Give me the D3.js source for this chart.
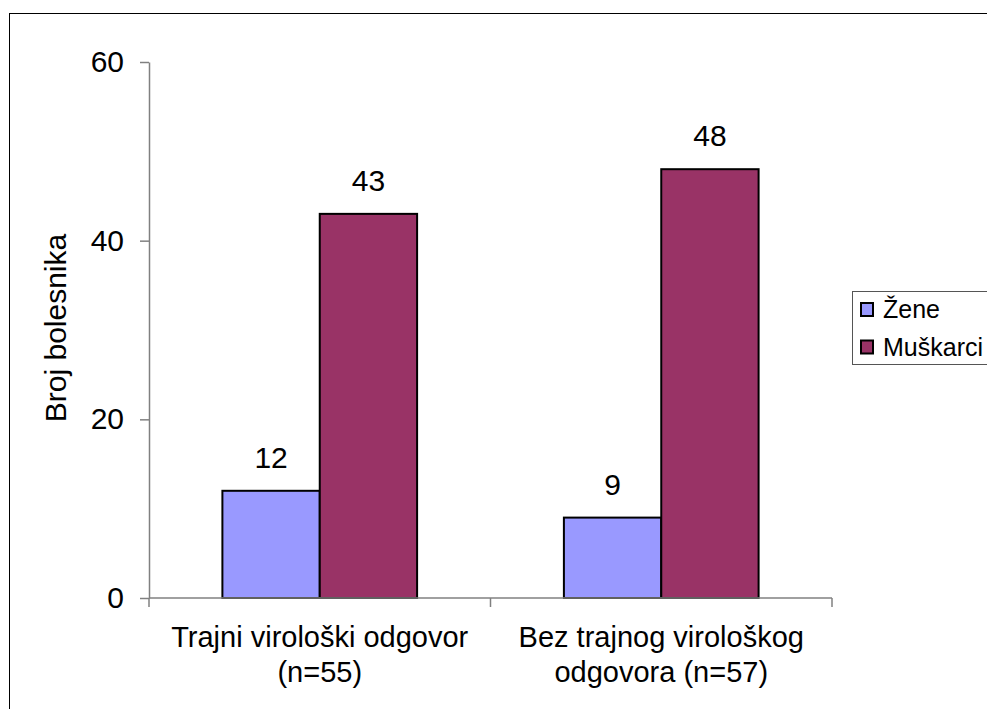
<!DOCTYPE html>
<html>
<head>
<meta charset="utf-8">
<script src="https://cdn.jsdelivr.net/npm/d3@7"></script>
<style>
  html, body { margin: 0; padding: 0; background: #fff; }
  svg { display: block; font-family: "Liberation Sans", Arial, sans-serif; }
</style>
</head>
<body>
<svg id="chart" width="987" height="709"></svg>
<script>
const categories = [["Trajni virološki odgovor", "(n=55)"], ["Bez trajnog virološkog", "odgovora (n=57)"]];
const categoryKeys = ["Trajni virološki odgovor (n=55)", "Bez trajnog virološkog odgovora (n=57)"];
const seriesNames = ["Žene", "Muškarci"];
const zeneValues = [12, 9];
const muskarciValues = [43, 48];
const yTicks = [0, 20, 40, 60];
const seriesColors = ["#9999FF", "#993366"];

const svg = d3.select("#chart");

// outer frame
svg.append("rect").attr("x", 9.5).attr("y", 13.5).attr("width", 1000).attr("height", 720)
  .attr("fill", "none").attr("stroke", "#000").attr("stroke-width", 1);

const pLeft = 149, pRight = 832, pTop = 62, pBottom = 598;
const x0 = d3.scaleBand().domain(categoryKeys).range([pLeft, pRight]).paddingInner(0).paddingOuter(0);
const x1 = d3.scaleBand().domain(seriesNames).range([0, x0.bandwidth()]).paddingInner(0).paddingOuter(0.754);
const y = d3.scaleLinear().domain([0, 60]).range([pBottom, pTop]);
const color = d3.scaleOrdinal().domain(seriesNames).range(seriesColors);

const data = categoryKeys.map((c, i) => ({ cat: c, vals: [
  { s: seriesNames[0], v: zeneValues[i] },
  { s: seriesNames[1], v: muskarciValues[i] }
]}));

// Y axis
const yAxis = svg.append("g").attr("transform", `translate(${pLeft},0)`)
  .call(d3.axisLeft(y).tickValues(yTicks).tickSize(9).tickSizeOuter(0).tickPadding(16));
yAxis.select(".domain").attr("stroke", "#808080").attr("stroke-width", 1.5);
yAxis.selectAll(".tick line").attr("stroke", "#808080").attr("stroke-width", 1.5);
yAxis.selectAll(".tick text").attr("font-size", 30).attr("fill", "#000")
  .attr("font-family", "'Liberation Sans', Arial, sans-serif");

// bars
const g = svg.append("g");
data.forEach(d => {
  const gg = g.append("g").attr("transform", `translate(${x0(d.cat)},0)`);
  gg.selectAll("rect").data(d.vals).join("rect")
    .attr("x", v => x1(v.s))
    .attr("y", v => y(v.v))
    .attr("width", x1.bandwidth())
    .attr("height", v => y(0) - y(v.v))
    .attr("fill", v => color(v.s))
    .attr("stroke", "#000").attr("stroke-width", 2);
  gg.selectAll("text.val").data(d.vals).join("text").attr("class", "val")
    .attr("x", v => x1(v.s) + x1.bandwidth() / 2)
    .attr("y", v => y(v.v) - 23)
    .attr("text-anchor", "middle").attr("font-size", 30).attr("fill", "#000")
    .text(v => v.v);
});

// X axis
const xAxis = svg.append("g").attr("transform", `translate(0,${pBottom})`);
xAxis.append("line").attr("x1", pLeft).attr("x2", pRight).attr("y1", 0).attr("y2", 0)
  .attr("stroke", "#808080").attr("stroke-width", 1.5);
const tickXs = categoryKeys.map(c => x0(c)).concat([x0(categoryKeys[categoryKeys.length - 1]) + x0.bandwidth()]);
xAxis.selectAll("line.tk").data(tickXs).join("line").attr("class", "tk")
  .attr("x1", d => d).attr("x2", d => d).attr("y1", 0).attr("y2", 9)
  .attr("stroke", "#808080").attr("stroke-width", 1.5);
categoryKeys.forEach((c, i) => {
  const t = svg.append("text").attr("text-anchor", "middle").attr("font-size", 29).attr("fill", "#000");
  categories[i].forEach((line, j) => {
    t.append("tspan").attr("x", x0(c) + x0.bandwidth() / 2).attr("y", 647 + j * 35).text(line);
  });
});

// Y title
svg.append("text").attr("transform", "translate(66,328) rotate(-90)")
  .attr("text-anchor", "middle").attr("font-size", 30).attr("fill", "#000").text("Broj bolesnika");

// legend
const lg = svg.append("g");
lg.append("rect").attr("x", 852.5).attr("y", 291.5).attr("width", 200).attr("height", 73)
  .attr("fill", "#fff").attr("stroke", "#555").attr("stroke-width", 1);
seriesNames.forEach((s, i) => {
  const yy = 303 + i * 37.5;
  lg.append("rect").attr("x", 861).attr("y", yy).attr("width", 12).attr("height", 13)
    .attr("fill", color(s)).attr("stroke", "#000").attr("stroke-width", 2);
  lg.append("text").attr("x", 883).attr("y", yy + 15).attr("font-size", 25).attr("fill", "#000").text(s);
});
</script>
</body>
</html>
